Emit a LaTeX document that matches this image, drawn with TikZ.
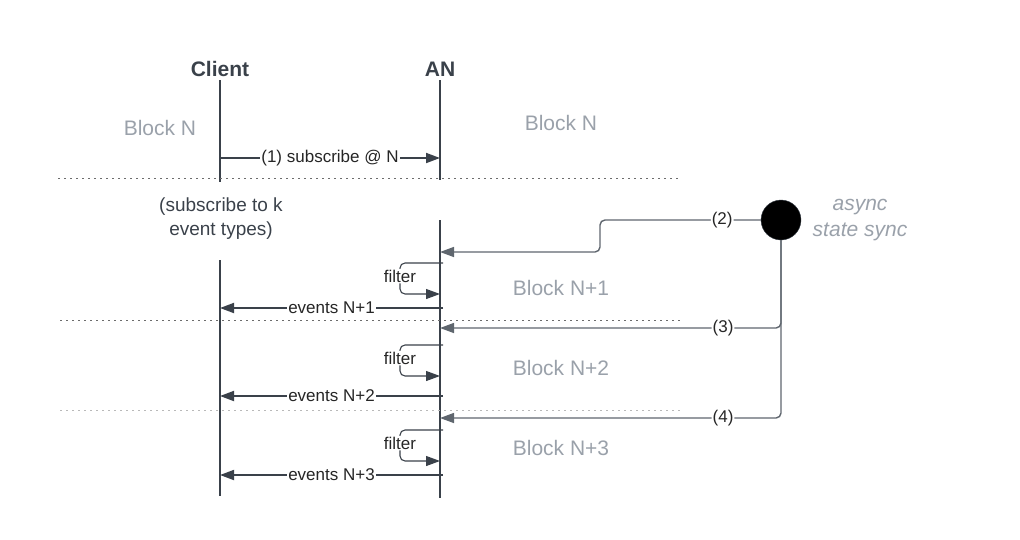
\documentclass[tikz,border=0pt]{standalone}
\usepackage{fontspec}
\setmainfont{Liberation Sans}
\usetikzlibrary{positioning,arrows.meta}
\definecolor{ink}{HTML}{3A414A}
\definecolor{blockgray}{HTML}{9AA1AA}
\definecolor{syncgray}{HTML}{5F666E}
\begin{document}
\begin{tikzpicture}[x=1pt, y=-1pt,
  actor/.style={font=\bfseries\fontsize{21}{24}\selectfont, text=ink},
  blk/.style={font=\fontsize{21}{24}\selectfont, text=blockgray, align=center},
  note/.style={font=\fontsize{19}{24}\selectfont, text=ink, align=center},
  lbl/.style={font=\fontsize{17}{20}\selectfont, fill=white, inner sep=1pt, text=black!85},
  life/.style={ink, line width=1.2pt},
  arr/.style={-{Triangle[length=14pt,width=10pt]}, ink, line width=1.8pt},
  loopy/.style={-{Triangle[length=14pt,width=10pt]}, ink, line width=1.1pt, rounded corners=5pt},
  sync/.style={-{Triangle[length=14pt,width=10pt]}, syncgray, line width=1.4pt, rounded corners=5pt},
  sep/.style={line width=1pt, dash pattern=on 1.5pt off 4.5pt},
]
\useasboundingbox (0,0) rectangle (1020,539);

% actors and lifelines
\node[actor] (client) at (220,69) {Client};
\node[actor] (an)     at (440,69) {AN};
\coordinate (cTop) at (220,80);  \coordinate (cGap) at (220,182);
\coordinate (cRe)  at (220,260); \coordinate (cEnd) at (220,496);
\coordinate (aTop) at (440,80);  \coordinate (aGap) at (440,180);
\coordinate (aRe)  at (440,220); \coordinate (aEnd) at (440,498);
\draw[life] (cTop) -- (cGap);  \draw[life] (cRe) -- (cEnd);
\draw[life] (aTop) -- (aGap);  \draw[life] (aRe) -- (aEnd);

% block separators
\coordinate (s1a) at (58,178);  \coordinate (s1b) at (680,178);
\coordinate (s2a) at (60,320);  \coordinate (s2b) at (682,320);
\coordinate (s3a) at (60,410);  \coordinate (s3b) at (680,410);
\draw[sep, gray!85!black] (s1a) -- (s1b);
\draw[sep, gray!85!black] (s2a) -- (s2b);
\draw[sep, gray!55]       (s3a) -- (s3b);

% block labels
\node[blk] (bNl) at (160,128) {Block N};
\node[blk] (bNr) at (561,123) {Block N};
\node[blk] (bN1) at (561,288) {Block N+1};
\node[blk] (bN2) at (561,368) {Block N+2};
\node[blk] (bN3) at (561,448) {Block N+3};

% subscription
\coordinate (sub1) at (220,158); \coordinate (sub2) at (440,158);
\draw[arr] (sub1) -- node[lbl] {(1) subscribe @ N} (sub2);
\node[note] (subnote) at (221,219) {(subscribe to k\\event types)};

% async state sync
\node[circle, fill=black, draw=ink, minimum size=40pt, inner sep=0pt] (dot) at (781,220) {};
\node[blk, font=\itshape\fontsize{21}{26}\selectfont] (asyncLbl) at (860,220) {async\\state sync};
\coordinate (bend2) at (600,220); \coordinate (drop2) at (600,252);
\coordinate (in2) at (440,252);
\coordinate (turn3) at (781,328); \coordinate (in3) at (440,328);
\coordinate (turn4) at (781,418); \coordinate (in4) at (440,418);
\draw[sync] (dot.west) -- node[lbl, pos=0.24] {(2)} (bend2) -- (drop2) -- (in2);
\draw[sync] (dot.south) -- (turn3) -- node[lbl, pos=0.17] {(3)} (in3);
\draw[sync] (dot.south) -- (turn4) -- node[lbl, pos=0.17] {(4)} (in4);

% filter loops and delivered events
\foreach \t/\e/\n in {263/308/1, 345/396/2, 430/475/3}{
  \coordinate (f\n a) at (443,\t);
  \coordinate (f\n b) at (400,\t);
  \coordinate (f\n c) at (400,\t+31);
  \coordinate (f\n d) at (440,\t+31);
  \draw[loopy] (f\n a) -- (f\n b) -- node[lbl, pos=0.42] {filter} (f\n c) -- (f\n d);
  \coordinate (ev\n a) at (443,\e);
  \coordinate (ev\n c) at (220,\e);
  \draw[arr] (ev\n a) -- node[lbl] {events N+\n} (ev\n c);
}
\end{tikzpicture}
\end{document}
